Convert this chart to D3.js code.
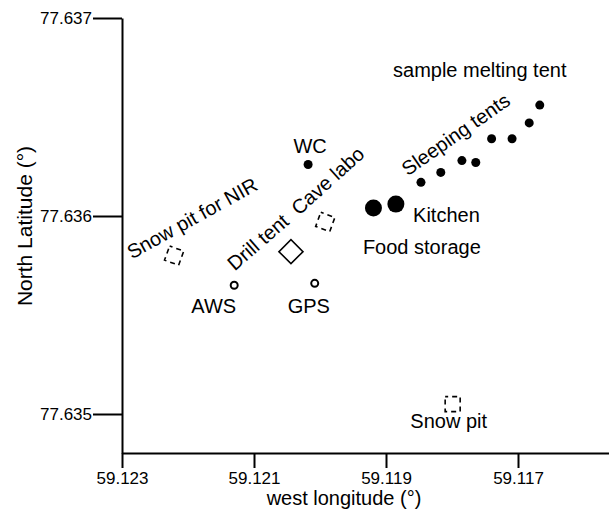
<!DOCTYPE html>
<meta charset="utf-8">
<style>
body { margin: 0; background: #fff; }
svg { font-family: "Liberation Sans", Arial, sans-serif; }
.axis path, .axis line { stroke: #000; stroke-width: 2px; }
.axis text { font-size: 17px; fill: #000; }
.title { font-size: 20px; }
.title--y { font-size: 21px; }
.label { font-size: 20px; }
</style>
<svg width="609" height="515"></svg>
<script src="https://cdn.jsdelivr.net/npm/d3@7"></script>
<script>

// camp sites (west longitude, north latitude)
var siteNames = ["WC", "Food storage", "Kitchen", "AWS", "GPS", "Drill tent", "Cave labo", "Snow pit for NIR", "Snow pit"];
var siteLon   = [59.12018, 59.11919, 59.11885, 59.12130, 59.12008, 59.12044, 59.11992, 59.12221, 59.11799];
var siteLat   = [77.63626, 77.63604, 77.63606, 77.63565, 77.63566, 77.63582, 77.63597, 77.63580, 77.63505];
var siteKind  = ["dot", "big", "big", "ring", "ring", "diamond", "pit", "pit", "pit"];

// sleeping tents + sample melting tent (last)
var tentLon = [59.11847, 59.11817, 59.11785, 59.11764, 59.11740, 59.11709, 59.11683, 59.11667];
var tentLat = [77.63617, 77.63622, 77.63628, 77.63627, 77.63639, 77.63639, 77.63647, 77.63656];

// tick labels
var lonTicks = [59.123, 59.121, 59.119, 59.117];
var latTicks = [77.637, 77.636, 77.635];

// annotations
var labelText = ["sample melting tent", "Sleeping tents", "WC", "Cave labo", "Drill tent", "Snow pit for NIR", "Kitchen", "Food storage", "AWS", "GPS", "Snow pit"];
var labelLon  = [59.11758, 59.11867, 59.12015, 59.12032, 59.12129, 59.12285, 59.11859, 59.11935, 59.12161, 59.12017, 59.11805];
var labelLat  = [77.63670, 77.63620, 77.63632, 77.63600, 77.63572, 77.63578, 77.63597, 77.63581, 77.63551, 77.63551, 77.63493];
var labelRot  = [0, -35, 0, -42, -41, -29, 0, 0, 0, 0, 0];
var labelAnchor = ["middle", "start", "middle", "start", "start", "start", "start", "start", "middle", "middle", "middle"];

var svg = d3.select("svg"),
    width = +svg.attr("width"),
    height = +svg.attr("height");

var x = d3.scaleLinear().domain([59.123, 59.117]).range([122, 518]);
x.domain([59.123, x.invert(width)]).range([122, width]);

var y = d3.scaleLinear().domain([77.637, 77.635]).range([18, 414]);
y.domain([77.637, y.invert(453)]).range([18, 453]);

svg.append("g")
    .attr("class", "axis")
    .attr("transform", "translate(0,453)")
    .call(d3.axisBottom(x).tickValues(lonTicks).tickFormat(d3.format(".3f")).tickSize(15).tickSizeOuter(0).tickPadding(4));

svg.append("g")
    .attr("class", "axis")
    .attr("transform", "translate(122,0)")
    .call(d3.axisLeft(y).tickValues(latTicks).tickFormat(d3.format(".3f")).tickSize(29).tickSizeOuter(0).tickPadding(1));

svg.selectAll(".axis .domain").attr("fill", "none");

svg.append("text")
    .attr("class", "title")
    .attr("x", 344)
    .attr("y", 505)
    .attr("text-anchor", "middle")
    .text("west longitude (°)");

svg.append("text")
    .attr("class", "title title--y")
    .attr("transform", "translate(32,226) rotate(-90)")
    .attr("text-anchor", "middle")
    .text("North Latitude (°)");

// tents
svg.append("g").selectAll("circle")
    .data(tentLon)
  .enter().append("circle")
    .attr("cx", function(d) { return x(d); })
    .attr("cy", function(d, i) { return y(tentLat[i]); })
    .attr("r", 4.5)
    .attr("fill", "#000");

// sites
var site = svg.append("g").selectAll("g")
    .data(siteNames)
  .enter().append("g")
    .attr("transform", function(d, i) { return "translate(" + x(siteLon[i]) + "," + y(siteLat[i]) + ")"; });

site.each(function(d, i) {
  var g = d3.select(this), k = siteKind[i];
  if (k === "dot") {
    g.append("circle").attr("r", 4.5).attr("fill", "#000");
  } else if (k === "big") {
    g.append("circle").attr("r", 8.5).attr("fill", "#000");
  } else if (k === "ring") {
    g.append("circle").attr("r", 3.5).attr("fill", "#fff").attr("stroke", "#000").attr("stroke-width", 2);
  } else if (k === "diamond") {
    g.append("rect").attr("x", -8.5).attr("y", -8.5).attr("width", 17).attr("height", 17)
        .attr("transform", "rotate(45)")
        .attr("fill", "none").attr("stroke", "#000").attr("stroke-width", 1.6);
  } else {
    g.append("rect").attr("x", -7.5).attr("y", -7.5).attr("width", 15).attr("height", 15)
        .attr("transform", "rotate(" + (d === "Snow pit" ? 0 : 20) + ")")
        .attr("fill", "none").attr("stroke", "#000").attr("stroke-width", 1.6)
        .attr("stroke-dasharray", "5,4").attr("stroke-dashoffset", 2);
  }
});

svg.append("g").selectAll("text")
    .data(labelText)
  .enter().append("text")
    .attr("class", "label")
    .attr("text-anchor", function(d, i) { return labelAnchor[i]; })
    .attr("transform", function(d, i) {
      return "translate(" + x(labelLon[i]) + "," + y(labelLat[i]) + ") rotate(" + labelRot[i] + ")";
    })
    .text(function(d) { return d; });

</script>
